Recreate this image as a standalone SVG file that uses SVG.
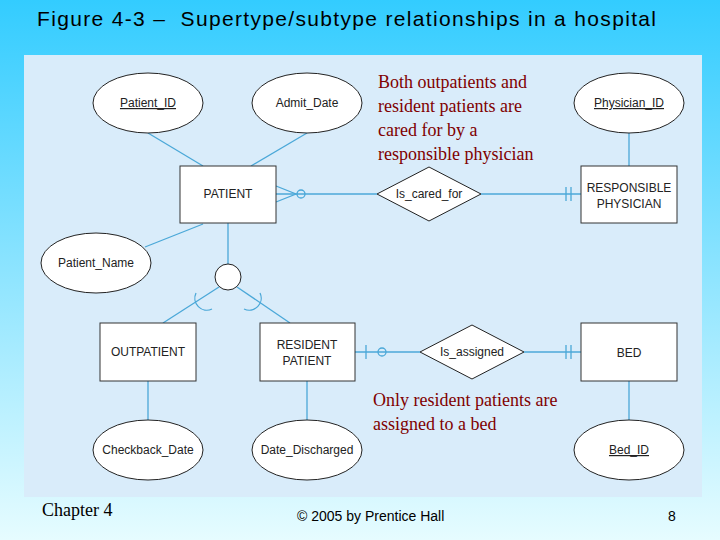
<svg xmlns="http://www.w3.org/2000/svg" width="720" height="540" viewBox="0 0 720 540">
<defs>
<linearGradient id="bg" x1="0" y1="0" x2="0" y2="1"><stop offset="0" stop-color="#33CCFF"/><stop offset="1" stop-color="#E6FCFF"/></linearGradient>
<style>
.e{fill:#fff;stroke:#222;stroke-width:1}
.b{fill:#fff;stroke:#333;stroke-width:1}
.l{stroke:#4BA8D8;stroke-width:1.3;fill:none}
.t{font-family:"Liberation Sans",Arial,sans-serif;font-size:12px;fill:#222;text-anchor:middle}
.n{font-family:"Liberation Serif",serif;font-size:18px;fill:#800000}
</style>
</defs>
<rect width="720" height="540" fill="url(#bg)"/>
<rect x="24" y="55" width="678" height="442" fill="#D9ECFA"/>
<text x="37" y="26" font-family="Liberation Sans,Arial,sans-serif" font-size="21" fill="#000" textLength="619" xml:space="preserve">Figure 4-3 –  Supertype/subtype relationships in a hospital</text>
<g id="connectors" class="l">
<line x1="148" y1="133" x2="203" y2="166"/>
<line x1="307" y1="133" x2="251" y2="166"/>
<line x1="145" y1="247" x2="203" y2="224"/>
<line x1="228" y1="223" x2="228" y2="264"/>
<line x1="219" y1="287" x2="163" y2="323"/>
<line x1="237" y1="287" x2="290" y2="323"/>
<path d="M196 293 A12 12 0 0 0 212 309"/>
<path d="M260 293 A12 12 0 0 1 244 309"/>
<line x1="276" y1="194" x2="377" y2="194"/>
<path d="M276 186 L296 194 L276 202"/>
<circle cx="301" cy="194" r="4"/>
<line x1="481" y1="194" x2="581" y2="194"/>
<path d="M566 187 V201 M571 187 V201"/>
<line x1="355" y1="352" x2="420" y2="352"/>
<path d="M366 345 V359"/>
<circle cx="382" cy="352" r="4"/>
<line x1="524" y1="352" x2="581" y2="352"/>
<path d="M566 345 V359 M571 345 V359"/>
<line x1="629" y1="133" x2="629" y2="166"/>
<line x1="629" y1="381" x2="629" y2="420"/>
<line x1="148" y1="381" x2="148" y2="420"/>
<line x1="307" y1="381" x2="307" y2="420"/>
</g>
<g id="patient_id"><ellipse class="e" cx="148" cy="103" rx="55" ry="30"/><text class="t" x="148" y="107" text-decoration="underline">Patient_ID</text></g>
<g id="admit_date"><ellipse class="e" cx="307" cy="103" rx="55" ry="30"/><text class="t" x="307" y="107">Admit_Date</text></g>
<g id="physician_id"><ellipse class="e" cx="629" cy="103" rx="55" ry="30"/><text class="t" x="629" y="107" text-decoration="underline">Physician_ID</text></g>
<g id="patient"><rect class="b" x="180" y="166" width="96" height="57"/><text class="t" x="228" y="198">PATIENT</text></g>
<g id="patient_name"><ellipse class="e" cx="96" cy="263" rx="55" ry="30"/><text class="t" x="96" y="267">Patient_Name</text></g>
<g id="subtype_circle"><circle cx="228" cy="277" r="13" fill="#fff" stroke="#222"/></g>
<g id="outpatient"><rect class="b" x="100" y="323" width="96" height="58"/><text class="t" x="148" y="356">OUTPATIENT</text></g>
<g id="resident"><rect class="b" x="260" y="323" width="95" height="58"/><text class="t" x="307" y="349">RESIDENT</text><text class="t" x="307" y="365">PATIENT</text></g>
<g id="is_cared_for"><polygon class="e" points="377,194 429,167 481,194 429,221"/><text class="t" x="429" y="198">Is_cared_for</text></g>
<g id="responsible_physician"><rect class="b" x="581" y="166" width="96" height="57"/><text class="t" x="629" y="192">RESPONSIBLE</text><text class="t" x="629" y="208">PHYSICIAN</text></g>
<g id="is_assigned"><polygon class="e" points="420,352 472,325 524,352 472,379"/><text class="t" x="472" y="356">Is_assigned</text></g>
<g id="bed"><rect class="b" x="581" y="323" width="96" height="58"/><text class="t" x="629" y="357">BED</text></g>
<g id="checkback_date"><ellipse class="e" cx="148" cy="450" rx="55" ry="30"/><text class="t" x="148" y="454">Checkback_Date</text></g>
<g id="date_discharged"><ellipse class="e" cx="307" cy="450" rx="55" ry="30"/><text class="t" x="307" y="454">Date_Discharged</text></g>
<g id="bed_id"><ellipse class="e" cx="629" cy="450" rx="55" ry="30"/><text class="t" x="629" y="454" text-decoration="underline">Bed_ID</text></g>
<g id="note1" class="n"><text x="378" y="88">Both outpatients and</text><text x="378" y="112">resident patients are</text><text x="378" y="136">cared for by a</text><text x="378" y="160">responsible physician</text></g>
<g id="note2" class="n"><text x="373" y="406">Only resident patients are</text><text x="373" y="430">assigned to a bed</text></g>
<text x="42" y="516" font-family="Liberation Serif,serif" font-size="18" fill="#000">Chapter 4</text>
<text x="297" y="521" font-family="Liberation Sans,Arial,sans-serif" font-size="14" fill="#000">© 2005 by Prentice Hall</text>
<text x="668" y="521" font-family="Liberation Sans,Arial,sans-serif" font-size="14" fill="#000">8</text>
</svg>
